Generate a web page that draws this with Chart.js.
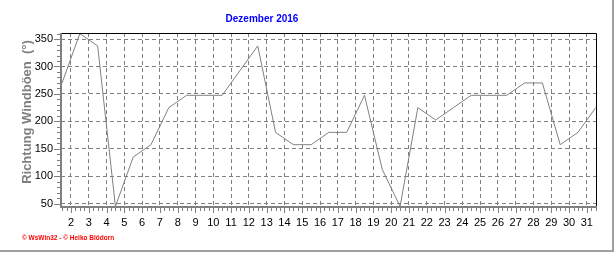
<!DOCTYPE html>
<html>
<head>
<meta charset="utf-8">
<script src="https://cdn.jsdelivr.net/npm/chart.js@4.4.0/dist/chart.umd.min.js"></script>
<style>
    html, body { margin: 0; padding: 0; background: #ffffff; }
    #wrap { width: 616px; height: 253px; position: relative; }
</style>
</head>
<body>
<div id="wrap"><canvas id="windChart" width="616" height="253"></canvas></div>
<script>
// Chart data
const chartTitle = 'Dezember 2016';
const yAxisTitle = 'Richtung Windböen  (°)';
const footerText = '© WsWin32 - © Heiko Blödorn';
const days = [1, 2, 3, 4, 5, 6, 7, 8, 9, 10, 11, 12, 13, 14, 15, 16, 17, 18, 19, 20, 21, 22, 23, 24, 25, 26, 27, 28, 29, 30, 31];
const windDir = [270, 360, 337.5, 45, 135, 157.5, 225, 247.5, 247.5, 247.5, 292.5, 337.5, 180, 157.5, 157.5, 180, 180, 247.5, 112.5, 45, 225, 202.5, 225, 247.5, 247.5, 247.5, 270, 270, 157.5, 180, 225];
const xTicks = [2, 3, 4, 5, 6, 7, 8, 9, 10, 11, 12, 13, 14, 15, 16, 17, 18, 19, 20, 21, 22, 23, 24, 25, 26, 27, 28, 29, 30, 31];
const yTicks = [50, 100, 150, 200, 250, 300, 350];

const gridGrey = '#808080';

// values are daily readings, plotted at midday
const points = days.map((d, i) => ({ x: d + 0.5, y: windDir[i] }));

// Frame, axis lines, minor ticks and texts
const framePlugin = {
    id: 'frame',
    afterDraw(chart) {
        const c = chart.ctx;
        const a = chart.chartArea;
        const xs = chart.scales.x;
        const ys = chart.scales.y;
        c.save();

        // black top/right border
        c.strokeStyle = '#000000';
        c.lineWidth = 1;
        c.beginPath();
        c.moveTo(a.left, a.top + 0.5);
        c.lineTo(a.right - 0.5, a.top + 0.5);
        c.lineTo(a.right - 0.5, a.bottom);
        c.stroke();

        // grey left/bottom axis
        c.strokeStyle = gridGrey;
        c.lineWidth = 2;
        c.beginPath();
        c.moveTo(a.left, a.top);
        c.lineTo(a.left, a.bottom);
        c.lineTo(a.right, a.bottom);
        c.stroke();

        // x ticks, 4 per day
        c.lineWidth = 1;
        c.beginPath();
        for (let v = Math.ceil(xs.min * 4) / 4; v <= xs.max; v += 0.25) {
            const px = Math.round(xs.getPixelForValue(v)) + 0.5;
            const len = Number.isInteger(v) ? 5 : 3;
            c.moveTo(px, a.bottom + 1);
            c.lineTo(px, a.bottom + 1 + len);
        }
        // y ticks, every 10
        for (let v = 50; v <= ys.max; v += 10) {
            const py = Math.round(ys.getPixelForValue(v)) + 0.5;
            const len = v % 50 === 0 ? 6 : 3;
            c.moveTo(a.left - 1, py);
            c.lineTo(a.left - 1 - len, py);
        }
        c.stroke();

        // title
        c.fillStyle = '#0000ff';
        c.font = 'bold 10px "Liberation Sans", Arial, sans-serif';
        c.textAlign = 'center';
        c.textBaseline = 'middle';
        c.fillText(chartTitle, 262, 19);

        // y axis title
        c.save();
        c.translate(27, 112);
        c.rotate(-Math.PI / 2);
        c.fillStyle = gridGrey;
        c.font = 'bold 13px "Liberation Sans", Arial, sans-serif';
        c.fillText(yAxisTitle, 0, 0);
        c.restore();

        // footer
        c.fillStyle = '#ff0000';
        c.font = 'bold 6.5px "Liberation Sans", Arial, sans-serif';
        c.textAlign = 'left';
        c.fillText(footerText, 22, 238.5);

        // outer grey frame right/bottom
        c.strokeStyle = '#a0a0a0';
        c.lineWidth = 2;
        c.beginPath();
        c.moveTo(613, 0);
        c.lineTo(613, 251);
        c.lineTo(0, 251);
        c.stroke();

        c.restore();
    }
};

const ctx = document.getElementById('windChart').getContext('2d');
const windChart = new Chart(ctx, {
    type: 'line',
    data: {
        datasets: [{
            data: points,
            borderColor: gridGrey,
            borderWidth: 1,
            pointRadius: 0,
            tension: 0,
            fill: false
        }]
    },
    options: {
        responsive: false,
        animation: false,
        devicePixelRatio: 1,
        layout: { padding: { top: 33, right: 19, left: 0, bottom: 0 } },
        plugins: {
            legend: { display: false },
            tooltip: { enabled: false }
        },
        scales: {
            x: {
                type: 'linear',
                min: 1.44,
                max: 31.57,
                afterBuildTicks: scale => { scale.ticks = xTicks.map(v => ({ value: v })); },
                afterFit: scale => { scale.height = 46; },
                grid: { color: gridGrey, lineWidth: 1, drawTicks: false },
                border: { display: false, dash: [4, 3] },
                ticks: {
                    color: '#000000',
                    padding: 9,
                    maxRotation: 0,
                    autoSkip: false,
                    font: { family: '"Liberation Sans", Arial, sans-serif', size: 11 }
                }
            },
            y: {
                min: 44,
                max: 361,
                afterBuildTicks: scale => { scale.ticks = yTicks.map(v => ({ value: v })); },
                afterFit: scale => { scale.width = 61; },
                grid: { color: gridGrey, lineWidth: 1, drawTicks: false },
                border: { display: false, dash: [4, 3] },
                ticks: {
                    color: '#000000',
                    padding: 8,
                    font: { family: '"Liberation Sans", Arial, sans-serif', size: 11 }
                }
            }
        }
    },
    plugins: [framePlugin]
});
</script>
</body>
</html>
